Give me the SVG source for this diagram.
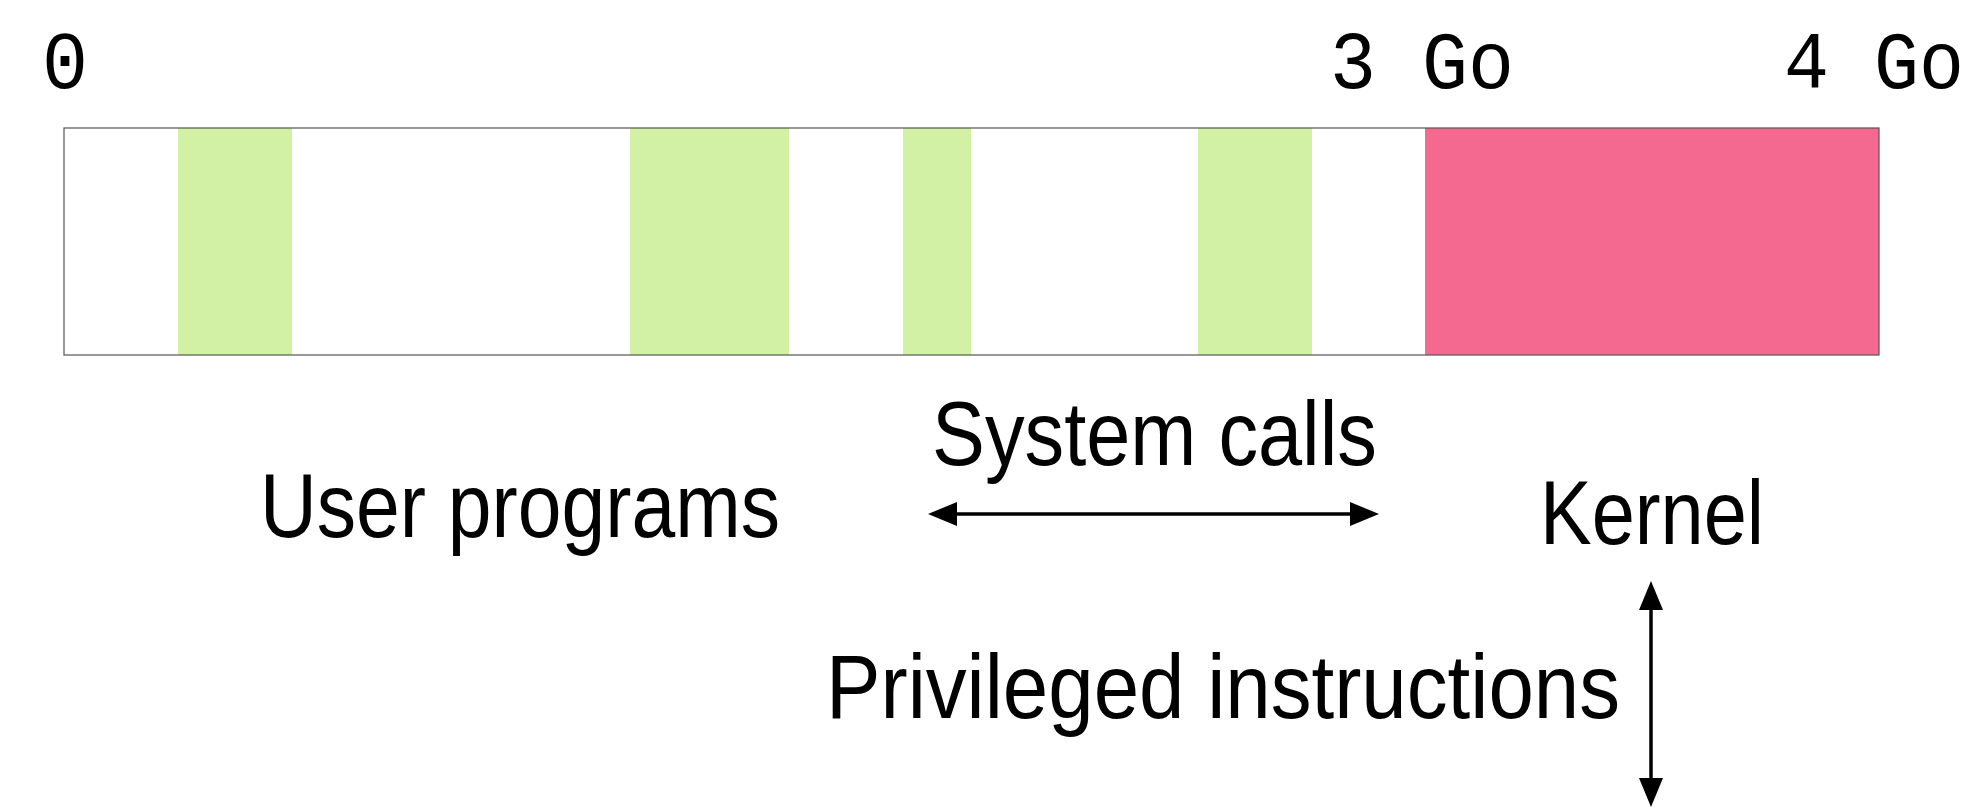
<svg xmlns="http://www.w3.org/2000/svg" width="1977" height="808" viewBox="0 0 1977 808">
  <style>
    .mono { font-family: "Liberation Mono", "DejaVu Sans Mono", monospace; font-size: 82px; fill: #000; }
    .sans { font-family: "Liberation Sans", "DejaVu Sans", sans-serif; font-size: 90px; fill: #000; }
    .user { fill: #d3f1a4; }
    .kern { fill: #f4698f; }
    .conn { stroke: #000; stroke-width: 3.5; fill: none; marker-start: url(#ah); marker-end: url(#ah); }
  </style>
  <defs>
    <marker id="ah" markerUnits="userSpaceOnUse" markerWidth="29" markerHeight="24" viewBox="0 0 29 24" refX="9" refY="12" orient="auto-start-reverse">
      <path d="M0,0 L29,12 L0,24 z" fill="#000"/>
    </marker>
  </defs>
  <rect width="1977" height="808" fill="#fff"/>

  <g id="addresses">
    <text class="mono" x="42" y="88" textLength="46" lengthAdjust="spacingAndGlyphs">0</text>
    <text class="mono" x="1330" y="88" textLength="184" lengthAdjust="spacingAndGlyphs">3 Go</text>
    <text class="mono" x="1784" y="88" textLength="180" lengthAdjust="spacingAndGlyphs">4 Go</text>
  </g>

  <g id="memory">
    <rect x="64" y="128" width="1815" height="227" fill="#fff"/>
    <rect class="user" x="178" y="128" width="114" height="227"/>
    <rect class="user" x="630" y="128" width="159" height="227"/>
    <rect class="user" x="903" y="128" width="68" height="227"/>
    <rect class="user" x="1198" y="128" width="114" height="227"/>
    <rect class="kern" x="1425" y="128" width="454" height="227"/>
    <rect x="64" y="128" width="1815" height="227" fill="none" stroke="#555" stroke-width="1.2"/>
  </g>

  <g id="user-programs">
    <text class="sans" x="260" y="537" textLength="520" lengthAdjust="spacingAndGlyphs">User programs</text>
  </g>
  <g id="system-calls">
    <text class="sans" x="932" y="465" textLength="445" lengthAdjust="spacingAndGlyphs">System calls</text>
  </g>
  <g id="kernel">
    <text class="sans" x="1540" y="544" textLength="224" lengthAdjust="spacingAndGlyphs">Kernel</text>
  </g>
  <g id="privileged-instructions">
    <text class="sans" x="826" y="718" textLength="794" lengthAdjust="spacingAndGlyphs">Privileged instructions</text>
  </g>

  <g id="connectors">
    <line class="conn" x1="948" y1="514" x2="1359" y2="514"/>
    <line class="conn" x1="1651" y1="601" x2="1651" y2="787"/>
  </g>
</svg>
